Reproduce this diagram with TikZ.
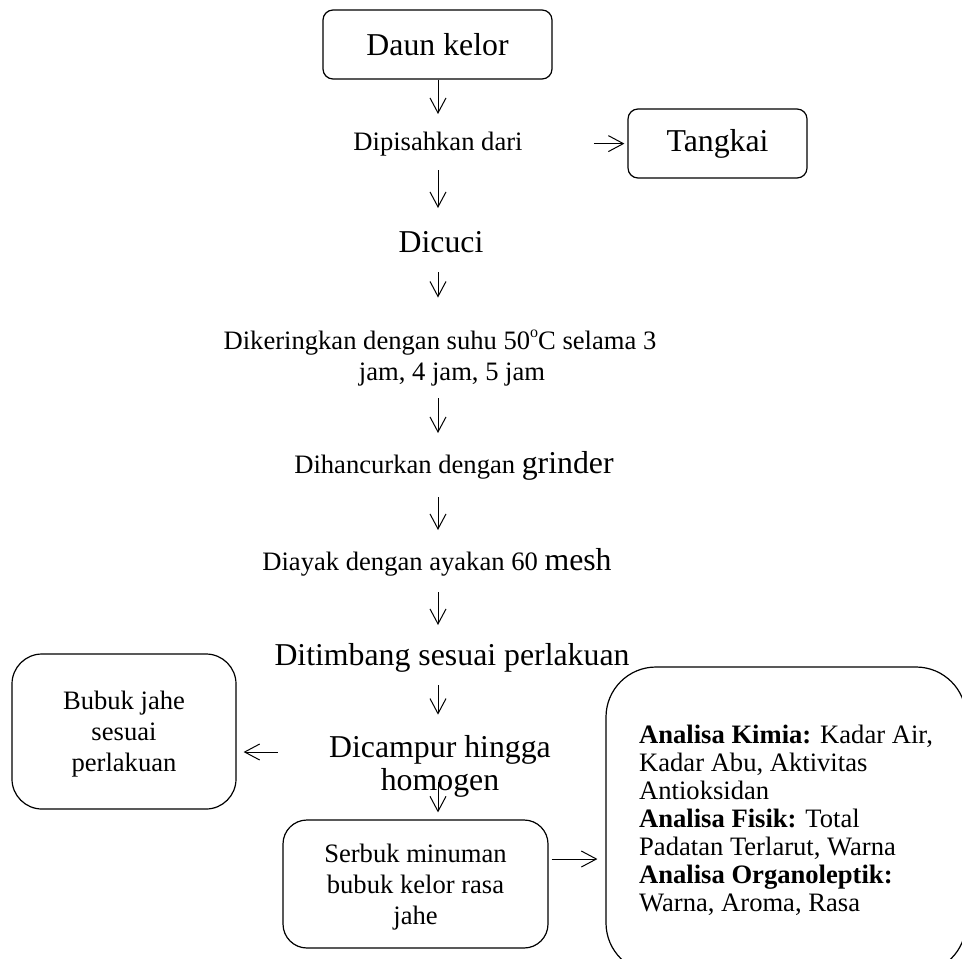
\documentclass[tikz,border=0pt]{standalone}
\usepackage{fontspec}
\setmainfont{Liberation Serif}
\usetikzlibrary{arrows.meta}

\newcommand{\besar}{\fontsize{15.9}{16.5}\selectfont}
\newcommand{\kecil}{\fontsize{13.3}{15.5}\selectfont}
\newcommand{\rapat}{\fontsize{13.3}{14}\selectfont}
\newcommand{\derajat}{\raisebox{0.45em}{\fontsize{8}{8}\selectfont o}}

\begin{document}
\begin{tikzpicture}[x=0.5pt, y=-0.5pt,
    kotak/.style={draw, rounded corners=5pt, inner sep=0pt, align=center, line width=0.6pt},
    teks/.style={inner sep=0pt, align=center},
    panah/.style={-{Straight Barb[length=7.5pt,width=8pt]}, line width=0.5pt}]
  \useasboundingbox (0,0) rectangle (962,958);
  \clip (0,0) rectangle (962,958);

  \coordinate (kolom) at (438,0);

  \node[kotak, font=\besar, minimum width=114.5pt, minimum height=34.5pt] (daun) at (437.5,44.5) {Daun kelor};
  \node[teks, font=\kecil, anchor=base] (pisah) at (438,150) {Dipisahkan dari};
  \node[kotak, font=\besar, minimum width=89.5pt, minimum height=34.5pt] (tangkai) at (717.5,143.5) {Tangkai};
  \node[teks, font=\besar, anchor=base] (cuci) at (441,252) {Dicuci};
  \node[teks, font=\kecil] (kering) at (440,358) {Dikeringkan dengan suhu 50\derajat C selama 3\\\hspace*{12pt}jam, 4 jam, 5 jam};
  \node[teks, font=\kecil, anchor=base] (hancur) at (454,473) {Dihancurkan dengan {\besar grinder}};
  \node[teks, font=\kecil, anchor=base] (ayak) at (437,570) {Diayak dengan ayakan 60 {\besar mesh}};
  \node[teks, font=\besar, anchor=base] (timbang) at (452,665) {Ditimbang sesuai perlakuan};
  \node[teks, font=\besar] (campur) at (440,766) {Dicampur hingga\\homogen};
  \node[kotak, font=\kecil, text depth=0pt, rounded corners=15pt, minimum width=112pt, minimum height=77.5pt] (jahe) at (124,731.5) {Bubuk jahe\\sesuai\\perlakuan};
  \node[kotak, font=\kecil, text depth=0pt, rounded corners=12pt, minimum width=132.5pt, minimum height=64pt] (serbuk) at (415.5,884) {Serbuk minuman\\bubuk kelor rasa\\jahe};
  \node[kotak, font=\rapat, align=left, rounded corners=25pt, minimum width=180pt, minimum height=153pt] (analisa) at (786,820) {\textbf{Analisa Kimia:} Kadar Air,\\Kadar Abu, Aktivitas\\Antioksidan\\\textbf{Analisa Fisik:} Total\\Padatan Terlarut, Warna\\\textbf{Analisa Organoleptik:}\\Warna, Aroma, Rasa};

  \coordinate (kiri) at ([yshift=7pt]campur.west);
  \coordinate (kanan) at ([yshift=12.5pt]serbuk.east);

  \draw[panah, shorten >=18pt] (daun.south -| kolom) -- (pisah.base -| kolom);
  \draw[panah, shorten <=10pt, shorten >=22pt] (pisah.base -| kolom) -- (cuci.base -| kolom);
  \draw[panah, shorten <=10pt, shorten >=16pt] (cuci.base -| kolom) -- (kering.north -| kolom);
  \draw[panah, shorten <=6pt, shorten >=20pt] (kering.south -| kolom) -- (hancur.base -| kolom);
  \draw[panah, shorten <=12pt, shorten >=20pt] (hancur.base -| kolom) -- (ayak.base -| kolom);
  \draw[panah, shorten <=11pt, shorten >=20pt] (ayak.base -| kolom) -- (timbang.base -| kolom);
  \draw[panah, shorten <=10pt, shorten >=10pt] (timbang.base -| kolom) -- (campur.north -| kolom);
  \draw[panah, shorten <=8pt, shorten >=3.5pt] (campur.center -| kolom) -- (serbuk.north -| kolom);
  \draw[panah, shorten <=35.5pt, shorten >=1.5pt] (pisah.east) -- (pisah.east -| tangkai.west);
  \draw[panah, shorten <=25.5pt, shorten >=3.5pt] (kiri) -- (kiri -| jahe.east);
  \draw[panah, shorten <=1.5pt, shorten >=4pt] (kanan) -- (kanan -| analisa.west);
\end{tikzpicture}
\end{document}
